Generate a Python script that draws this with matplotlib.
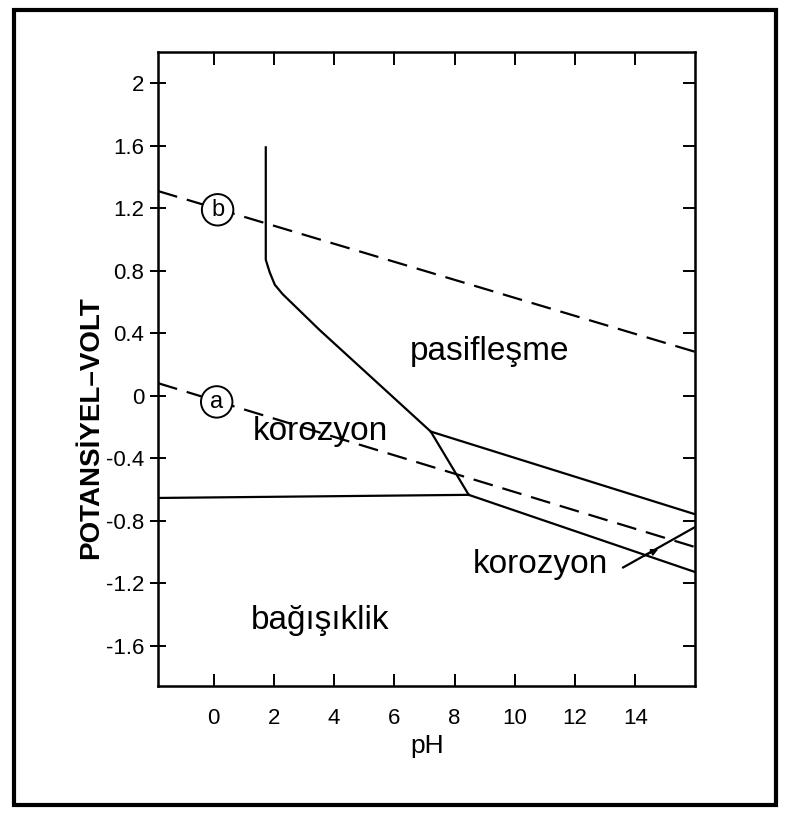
import matplotlib
matplotlib.use("Agg")
import matplotlib.pyplot as plt
from matplotlib.patches import Rectangle

plt.rcParams['font.family'] = ['Liberation Sans', 'DejaVu Sans']

# --- data ---
x_ticks = [0, 2, 4, 6, 8, 10, 12, 14]
y_ticks = [2, 1.6, 1.2, 0.8, 0.4, 0, -0.4, -0.8, -1.2, -1.6]
y_tick_labels = ["2", "1.6", "1.2", "0.8", "0.4", "0", "-0.4", "-0.8", "-1.2", "-1.6"]
xlim = (-1.85, 16.0)
ylim = (-1.86, 2.2)

# main passivation boundary (vertical + curve + diagonal)
boundary_ph = [1.73, 1.73, 1.73, 1.86, 2.03, 2.29, 3.52, 7.21, 8.47]
boundary_E = [1.59, 0.90, 0.87, 0.79, 0.71, 0.65, 0.42, -0.23, -0.635]
# immunity boundary (nearly horizontal)
immunity_ph = [-1.85, 8.47]
immunity_E = [-0.655, -0.635]
# upper alkaline line
upper_ph = [7.21, 16.0]
upper_E = [-0.23, -0.76]
# lower alkaline line
lower_ph = [8.47, 16.0]
lower_E = [-0.635, -1.13]
# short boundary near pH 14-16
short_ph = [13.6, 16.0]
short_E = [-1.10, -0.84]
# water lines
line_a_ph = [-1.85, 16.0]
line_a_E = [0.08, -0.97]
line_b_ph = [-1.85, 16.0]
line_b_E = [1.31, 0.28]

region_labels = ["pasifleşme", "korozyon", "bağışıklik", "korozyon"]
region_ph = [9.15, 3.55, 3.55, 10.85]
region_E = [0.28, -0.23, -1.44, -1.08]

circle_labels = ["b", "a"]
circle_ph = [0.13, 0.10]
circle_E = [1.19, -0.04]

fig = plt.figure(figsize=(7.88, 8.13), dpi=100)
ax = fig.add_axes([0.2005, 0.156, 0.682, 0.780])

lw = 1.6
ax.plot(line_b_ph, line_b_E, color='black', lw=lw, dashes=(9, 4.5), zorder=2)
ax.plot(line_a_ph, line_a_E, color='black', lw=lw, dashes=(9, 4.5), zorder=2)
ax.plot(boundary_ph, boundary_E, color='black', lw=lw, zorder=3)
ax.plot(immunity_ph, immunity_E, color='black', lw=lw, zorder=3)
ax.plot(upper_ph, upper_E, color='black', lw=lw, zorder=3)
ax.plot(lower_ph, lower_E, color='black', lw=lw, zorder=3)
ax.plot(short_ph, short_E, color='black', lw=lw, zorder=3)
ax.annotate("", xy=(14.85, -0.975), xytext=(14.2, -1.035),
            arrowprops=dict(arrowstyle='-|>', color='black', lw=1.2,
                            mutation_scale=10), zorder=4)

for t, px, py in zip(region_labels, region_ph, region_E):
    ax.text(px, py, t, fontsize=24, ha='center', va='center', zorder=5)

for t, px, py in zip(circle_labels, circle_ph, circle_E):
    ax.text(px, py, t, fontsize=17, ha='center', va='center', zorder=6,
            bbox=dict(boxstyle='circle,pad=0.2', fc='white', ec='black', lw=1.4))

ax.set_xlim(*xlim)
ax.set_ylim(*ylim)
ax.set_xticks(x_ticks)
ax.set_xticklabels([str(v) for v in x_ticks])
ax.set_yticks(y_ticks)
ax.set_yticklabels(y_tick_labels)
ax.tick_params(axis='x', direction='in', length=9, width=1.4, top=True,
               labelsize=16, pad=16)
ax.tick_params(axis='y', direction='inout', length=12, width=1.4,
               labelsize=16, pad=4)
for s in ax.spines.values():
    s.set_linewidth(1.8)

# right ticks inward
ax2 = ax.secondary_yaxis('right')
ax2.set_yticks(y_ticks)
ax2.tick_params(direction='in', length=9, width=1.4, labelright=False)
ax.tick_params(axis='y', right=False)

ax.set_xlabel("pH", fontsize=19, labelpad=3)
ax.set_ylabel("POTANSİYEL–VOLT", fontsize=20, fontweight='bold')
ax.yaxis.set_label_coords(-0.10, 0.407)

fig.patches.append(Rectangle((0.018, 0.01), 0.967, 0.978, transform=fig.transFigure,
                             fill=False, ec='black', lw=3))

fig.savefig("out.png", dpi=100)
